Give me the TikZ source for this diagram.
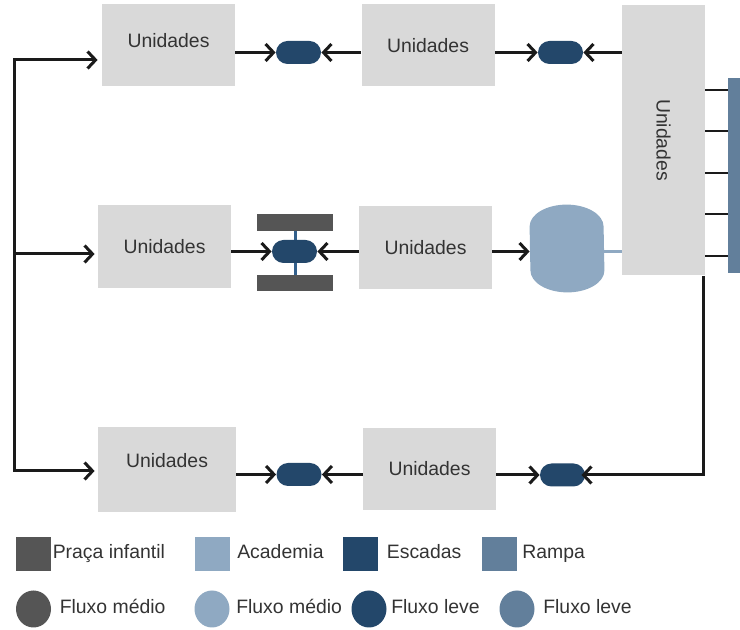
\documentclass[tikz,border=0pt]{standalone}
\usepackage{fontspec}
\setmainfont{Liberation Sans}
\usepackage{tikz}
\usetikzlibrary{arrows.meta, shapes.geometric, positioning}

\definecolor{caixa}{HTML}{D9D9D9}
\definecolor{praca}{HTML}{555555}
\definecolor{academia}{HTML}{8FA9C2}
\definecolor{escadas}{HTML}{23476A}
\definecolor{rampa}{HTML}{627F9B}
\definecolor{ligacao}{HTML}{33608C}
\definecolor{linha}{HTML}{1A1A1A}
\definecolor{texto}{HTML}{333333}

\begin{document}
\begin{tikzpicture}[x=0.5pt, y=-0.5pt, >={Straight Barb[length=4pt,width=8.5pt]},
    every node/.style={font=\fontsize{9.7}{11}\selectfont, text=texto},
    unid/.style={fill=caixa, minimum width=66.5pt, minimum height=41pt, inner sep=0pt},
    pilula/.style={fill=escadas, rounded corners=5.75pt, minimum width=22.5pt, minimum height=11.5pt, inner sep=0pt},
    barra/.style={fill=praca, minimum width=38pt, minimum height=8.5pt, inner sep=0pt},
    seta/.style={->, line width=1.5pt, draw=linha},
    fio/.style={line width=1.5pt, draw=linha},
    tick/.style={line width=0.8pt, draw=linha},
    legq/.style={minimum width=17.5pt, minimum height=17pt, inner sep=0pt},
    legc/.style={ellipse, minimum width=17.5pt, minimum height=18.5pt, inner sep=0pt},
    legtxt/.style={inner sep=0pt, anchor=west, text height=7pt, text depth=2pt}]
    \useasboundingbox (0,0) rectangle (740,630);

    % Units
    \node[unid, text depth=5.5pt]                      (u1) at (168.5,45.5) {Unidades};
    \node[unid]                                        (u2) at (428,45.5)   {Unidades};
    \node[unid, minimum width=41.5pt, minimum height=135pt] (u3) at (663.5,140) {\rotatebox{-90}{Unidades}};
    \node[unid, minimum height=41.5pt]                 (u4) at (164.5,246.5) {Unidades};
    \node[unid, minimum height=41.5pt]                 (u5) at (425.5,247.5) {Unidades};
    \node[unid, minimum width=69pt, minimum height=42.5pt, text depth=9.5pt] (u6) at (167,469.5) {Unidades};
    \node[unid]                                        (u7) at (429.5,469)  {Unidades};

    % Ramp and its links
    \node[fill=rampa, minimum width=6pt, minimum height=97.5pt, inner sep=0pt] (rampa) at (734,176) {};
    \foreach \y in {90,131,173,214,256}
      \draw[tick] (u3.east |- 0,\y) -- (rampa.west |- 0,\y);

    % Playground
    \node[barra]                        (b1) at (295,222.5) {};
    \node[barra, minimum height=8pt]    (b2) at (295,283)   {};
    \draw[ligacao, line width=1.5pt] (b1.south) -- (b2.north);

    % Gym
    \node[minimum width=37pt, minimum height=43.5pt, inner sep=0pt] (acad) at (567,248.5) {};
    \fill[academia] ([yshift=-11pt]acad.north west)
      arc[start angle=180, end angle=0, x radius=18.5pt, y radius=11pt]
      -- ([yshift=11pt]acad.south east)
      arc[start angle=0, end angle=-180, x radius=18.5pt, y radius=11pt] -- cycle;
    \draw[academia, line width=1.5pt] ([yshift=-1.5pt]acad.east) -- ([yshift=-1.5pt]u3.west |- acad.east);

    % Flows
    \node[pilula] (p1) at (298.5,52.5) {};
    \node[pilula] (p2) at (560.5,52.5) {};
    \node[pilula] (p3) at (294.5,251.5) {};
    \node[pilula] (p4) at (299,474.5) {};
    \node[pilula] (p5) at (562.5,475) {};

    % Arrows
    \draw[seta] (u1.east |- p1) -- (p1.west);
    \draw[seta] (u2.west |- p1) -- (p1.east);
    \draw[seta] (u2.east |- p2) -- (p2.west);
    \draw[seta] (u3.west |- p2) -- (p2.east);
    \draw[seta] (u4.east |- p3) -- (p3.west);
    \draw[seta] (u5.west |- p3) -- (p3.east);
    \draw[seta] (u5.east |- p3) -- (acad.west |- p3);
    \draw[seta] (u6.east |- p4) -- (p4.west);
    \draw[seta] (u7.west |- p4) -- (p4.east);
    \draw[seta] (u7.east |- p5) -- (p5.west);

    \coordinate (c1) at (703,276);
    \draw[seta] (c1) -- (c1 |- p5) -- ([xshift=-2pt]p5.east);

    \coordinate (t0) at (14,60);
    \coordinate (tm) at (14,254);
    \coordinate (tb) at (14,471);
    \draw[fio, <->, shorten <=2pt, shorten >=1.5pt] (u1.west |- t0) -- (t0) -- (tb) -- (u6.west |- tb);
    \draw[seta, shorten >=1.5pt] (tm) -- (u4.west |- tm);

    % Legend
    \node[legq, fill=praca]    (lq1) at (33.5,554) {};
    \node[legtxt, right=0.5pt of lq1] {Praça infantil};
    \node[legq, fill=academia] (lq2) at (212,554) {};
    \node[legtxt, right=3.5pt of lq2] {Academia};
    \node[legq, fill=escadas]  (lq3) at (360,554) {};
    \node[legtxt, right=4.3pt of lq3] {Escadas};
    \node[legq, fill=rampa]    (lq4) at (499,554) {};
    \node[legtxt, right=2.5pt of lq4] {Rampa};

    \node[legc, fill=praca]    (lc1) at (33.5,609) {};
    \node[legtxt, right=4pt of lc1] {Fluxo médio};
    \node[legc, fill=academia] (lc2) at (212,609) {};
    \node[legtxt, right=3pt of lc2] {Fluxo médio};
    \node[legc, fill=escadas]  (lc3) at (369,609) {};
    \node[legtxt, right=2pt of lc3] {Fluxo leve};
    \node[legc, fill=rampa]    (lc4) at (517,609) {};
    \node[legtxt, right=4pt of lc4] {Fluxo leve};
\end{tikzpicture}
\end{document}
